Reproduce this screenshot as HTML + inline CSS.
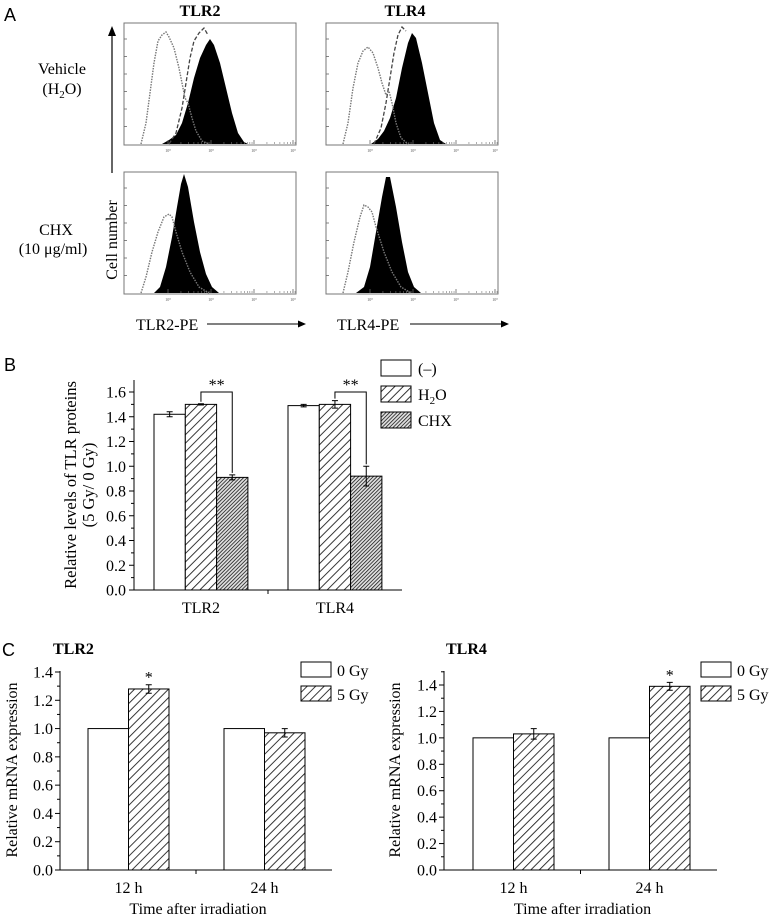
<!DOCTYPE html>
<html><head><meta charset="utf-8"><style>
html,body{margin:0;padding:0;background:#fff;}
svg{display:block;font-family:"Liberation Serif",serif;}
.sans{font-family:"Liberation Sans",sans-serif;}
</style></head><body>
<svg id="fig" width="773" height="919" viewBox="0 0 773 919" xmlns="http://www.w3.org/2000/svg">
<defs>
<pattern id="hatch" patternUnits="userSpaceOnUse" width="6" height="6" patternTransform="rotate(45)"><rect width="6" height="6" fill="#fff"/><line x1="0" y1="0" x2="0" y2="6" stroke="#222" stroke-width="1.8"/></pattern>
<pattern id="hatchDense" patternUnits="userSpaceOnUse" width="2.6" height="2.6" patternTransform="rotate(45)"><rect width="2.6" height="2.6" fill="#ddd"/><line x1="0" y1="0" x2="0" y2="2.6" stroke="#222" stroke-width="1.6"/></pattern>
</defs>
<g id="panelA"></g>
<g id="panelB"></g>
<g id="panelC1"></g>
<g id="panelC2"></g>
</svg>
<script>
// ---- Panel B data ----
const bCategories = ["TLR2", "TLR4"];
const bSeriesNames = ["(–)", "H2O", "CHX"];
const bNone = [1.42, 1.49];
const bH2O = [1.50, 1.50];
const bCHX = [0.91, 0.92];
const bNoneErr = [0.02, 0.01];
const bH2OErr = [0.005, 0.03];
const bCHXErr = [0.02, 0.08];
const bTicks = ["0.0","0.2","0.4","0.6","0.8","1.0","1.2","1.4","1.6"];
// ---- Panel C data ----
const cCategories = ["12 h", "24 h"];
const cTicks = ["0.0","0.2","0.4","0.6","0.8","1.0","1.2","1.4"];
const c2Gy0 = [1.0, 1.0];
const c2Gy5 = [1.28, 0.97];
const c2Gy5Err = [0.03, 0.03];
const c4Gy0 = [1.0, 1.0];
const c4Gy5 = [1.03, 1.39];
const c4Gy5Err = [0.04, 0.03];
const c2Sig = ["*", ""];
const c4Sig = ["", "*"];

const NS = "http://www.w3.org/2000/svg";
function mk(parent, tag, attrs, text){
  const e = document.createElementNS(NS, tag);
  for (const k in attrs) e.setAttribute(k, attrs[k]);
  if (text !== undefined) e.textContent = text;
  parent.appendChild(e);
  return e;
}

// ================= Panel A =================
const A = document.getElementById('panelA');
let t;
t = mk(A,'text',{x:4,y:21,'font-size':18,class:'sans'},'A');
 
t = mk(A,'text',{x:200,y:16,'font-size':16,'font-weight':'bold','text-anchor':'middle'},'TLR2');
 
t = mk(A,'text',{x:405,y:16,'font-size':16,'font-weight':'bold','text-anchor':'middle'},'TLR4');
 
t = mk(A,'text',{x:62,y:74,'font-size':16,'text-anchor':'middle'},'Vehicle');
 
t = mk(A,'text',{x:62,y:94,'font-size':16,'text-anchor':'middle'});
t.innerHTML='(H<tspan font-size="11" dy="4">2</tspan><tspan dy="-4">O)</tspan>';
 
t = mk(A,'text',{x:56,y:235,'font-size':16,'text-anchor':'middle'},'CHX');
 
t = mk(A,'text',{x:53,y:254,'font-size':16,'text-anchor':'middle'},'(10 μg/ml)');
 
t = mk(A,'line',{x1:112,y1:173,x2:112,y2:34,stroke:'#000','stroke-width':1.2});
 
mk(A,'path',{d:'M108,36 L112,26 L116,36 Z',fill:'#000'});
t = mk(A,'text',{x:0,y:0,'font-size':16,'text-anchor':'middle',transform:'translate(117,240) rotate(-90)'},'Cell number');
 
t = mk(A,'text',{x:136,y:330,'font-size':16},'TLR2-PE');
 
mk(A,'line',{x1:207,y1:324,x2:300,y2:324,stroke:'#000','stroke-width':1});
mk(A,'path',{d:'M298,320.5 L306,324 L298,327.5 Z',fill:'#000'});
t = mk(A,'text',{x:337,y:330,'font-size':16},'TLR4-PE');
 
mk(A,'line',{x1:410,y1:324,x2:503,y2:324,stroke:'#000','stroke-width':1});
mk(A,'path',{d:'M501,320.5 L509,324 L501,327.5 Z',fill:'#000'});

const histTLR2top = {
 dotted:[[17,121],[22,100],[26,70],[30,40],[34,18],[38,12],[42,9],[45,14],[50,25],[55,45],[58,60],[61,75],[64,80],[68,95],[72,108],[78,118],[85,121]],
 dashed:[[45,121],[52,110],[58,85],[62,60],[66,35],[70,18],[75,10],[80,5],[84,12]],
 filled:[[38,121],[45,117],[52,112],[58,100],[64,80],[70,55],[76,35],[82,22],[86,16],[90,22],[96,40],[102,65],[108,90],[114,110],[120,119],[124,121]]};
const histTLR4top = {
 dotted:[[17,121],[22,100],[27,65],[32,40],[37,28],[42,24],[47,30],[52,45],[56,60],[60,72],[63,68],[66,80],[70,100],[75,115],[82,121]],
 dashed:[[48,121],[55,105],[60,80],[64,55],[68,30],[72,12],[76,4],[80,8]],
 filled:[[45,121],[52,116],[58,108],[64,95],[70,75],[76,45],[82,20],[86,10],[90,15],[96,40],[102,70],[108,100],[114,117],[120,121]]};
const histTLR2bot = {
 dotted:[[17,121],[22,105],[28,80],[34,60],[40,45],[45,42],[48,45],[52,60],[58,80],[66,100],[75,115],[85,121]],
 dashed:[],
 filled:[[30,121],[36,115],[42,95],[48,65],[53,35],[57,12],[60,2],[64,15],[70,50],[76,80],[82,102],[88,115],[95,121]]};
const histTLR4bot = {
 dotted:[[17,121],[22,100],[28,70],[34,45],[38,33],[42,35],[46,40],[50,55],[58,80],[66,100],[75,115],[85,121]],
 dashed:[],
 filled:[[30,121],[38,115],[44,95],[50,60],[56,25],[60,5],[64,5],[70,35],[76,70],[82,100],[88,115],[95,121]]};

function histBox(x,y,h,name){
  const g = mk(A,'g',{transform:`translate(${x},${y})`});
   
  mk(g,'rect',{x:0,y:0,width:172,height:122,fill:'#fff',stroke:'#777','stroke-width':1});
  const pts = a => a.map(p=>p.join(',')).join(' ');
  const f = mk(g,'polygon',{points:pts(h.filled),fill:'#000'});
   
  if (h.dashed.length){ const d=mk(g,'polyline',{points:pts(h.dashed),fill:'none',stroke:'#444','stroke-width':1.3,'stroke-dasharray':'4,2'});
      }
  const o = mk(g,'polyline',{points:pts(h.dotted),fill:'none',stroke:'#777','stroke-width':1.4,'stroke-dasharray':'1.5,1.2'});
   
  for(let i=1;i<7;i++) mk(g,'line',{x1:0,x2:3,y1:121-i*17.5,y2:121-i*17.5,stroke:'#666','stroke-width':0.8});
  const dec=[44,87,130,169];
  dec.forEach(d=>{ mk(g,'line',{x1:d,x2:d,y1:121,y2:117,stroke:'#666','stroke-width':0.8});
    mk(g,'text',{x:d,y:129,'font-size':4,'text-anchor':'middle',fill:'#555'},'10⁰'); });
  for(let k=1;k<4;k++) for(let m=2;m<10;m++){ const xx=dec[k-1]+Math.log10(m)*43;
    mk(g,'line',{x1:xx,x2:xx,y1:121,y2:119,stroke:'#777','stroke-width':0.6}); }
}
histBox(124,23,histTLR2top,'tlr2-vehicle-histogram');
histBox(326,23,histTLR4top,'tlr4-vehicle-histogram');
histBox(124,172,histTLR2bot,'tlr2-chx-histogram');
histBox(326,172,histTLR4bot,'tlr4-chx-histogram');

// ================= Panel B =================
const B = document.getElementById('panelB');
t = mk(B,'text',{x:4,y:371,'font-size':18,class:'sans'},'B');
 
const bX0=134, bX1=402, bY0=590, bPx=(590-392)/1.6;
const bY = v => bY0 - v*bPx;
const bAxis = mk(B,'g',{});  
mk(bAxis,'line',{x1:bX0,y1:380,x2:bX0,y2:bY0,stroke:'#000','stroke-width':1});
bTicks.forEach((lab,i)=>{
  const v=parseFloat(lab), y=bY(v);
  mk(bAxis,'line',{x1:bX0-5,x2:bX0,y1:y,y2:y,stroke:'#000'});
  if(i<bTicks.length-1) mk(bAxis,'line',{x1:bX0-3,x2:bX0,y1:bY(v+0.1),y2:bY(v+0.1),stroke:'#000'});
  const tl=mk(bAxis,'text',{x:bX0-8,y:y+5.5,'font-size':16,'text-anchor':'end'},lab);
   
});
const bXa = mk(B,'line',{x1:bX0,y1:bY0,x2:bX1,y2:bY0,stroke:'#000'});
 
mk(B,'line',{x1:268,x2:268,y1:bY0,y2:bY0+4,stroke:'#000'});
t = mk(B,'text',{x:0,y:0,'font-size':16.5,'text-anchor':'middle',transform:'translate(76,485) rotate(-90)'},'Relative levels of TLR proteins');
 
t = mk(B,'text',{x:0,y:0,'font-size':16.5,'text-anchor':'middle',transform:'translate(94,485) rotate(-90)'},'(5 Gy/ 0 Gy)');
 
const bGroupStart=[154,288], bBarW=31.3;
const bFills=['#fff','url(#hatch)','url(#hatchDense)'];
const bVals=[bNone,bH2O,bCHX], bErrs=[bNoneErr,bH2OErr,bCHXErr];
const bSeriesSlug=['none','h2o','chx'];
bCategories.forEach((cat,ci)=>{
  const tl = mk(B,'text',{x:bGroupStart[ci]+bBarW*1.5,y:613,'font-size':16,'text-anchor':'middle'},cat);
   
  bVals.forEach((ser,si)=>{
    const x=bGroupStart[ci]+si*bBarW, v=ser[ci], y=bY(v);
    const r=mk(B,'rect',{x:x,y:y,width:bBarW,height:bY0-y,fill:bFills[si],stroke:'#000','stroke-width':1});
    
    
    const e=bErrs[si][ci], cx=x+bBarW/2;
    const eg=mk(B,'path',{d:`M${cx-3},${bY(v+e)} H${cx+3} M${cx},${bY(v+e)} V${bY(v-e)} M${cx-3},${bY(v-e)} H${cx+3}`,stroke:'#000','stroke-width':1,fill:'none'});
     
  });
  const lx=bGroupStart[ci]+bBarW*1.5, rx=bGroupStart[ci]+bBarW*2.5;
  const topY=bY(Math.max(bH2O[ci],bCHX[ci])+0.1);
  const br=mk(B,'path',{d:`M${lx},${bY(bH2O[ci]+bH2OErr[ci])-2} V${topY} H${rx} V${bY(bCHX[ci]+bCHXErr[ci])-2}`,stroke:'#000',fill:'none','stroke-width':1});
   
  const st=mk(B,'text',{x:(lx+rx)/2,y:topY-2,'font-size':16,'text-anchor':'middle'},'**');
   
});
const bLegY=[360,386,412];
bSeriesNames.forEach((n,i)=>{
  const g=mk(B,'g',{});  
  mk(g,'rect',{x:381,y:bLegY[i],width:30,height:16,fill:bFills[i],stroke:'#000'});
  const tx=mk(g,'text',{x:418,y:bLegY[i]+14,'font-size':16});
  if(n==='H2O') tx.innerHTML='H<tspan font-size="11" dy="4">2</tspan><tspan dy="-4">O</tspan>'; else tx.textContent=n;
});

// ================= Panel C =================
function panelC(id, prefix, title, axX, axRight, yTopPix, g0, g5, g5e, sig, groupStarts, legX, titleX, ylabX){
  const P=document.getElementById(id);
  const yB=870, px=(870-yTopPix)/1.4, Y=v=>yB-v*px, bw=40.5;
  let tt=mk(P,'text',{x:titleX,y:654,'font-size':16,'font-weight':'bold'},title);
   
  const ax=mk(P,'g',{});  
  mk(ax,'line',{x1:axX,y1:671,x2:axX,y2:yB,stroke:'#000'});
  cTicks.forEach((lab,i)=>{
    const v=parseFloat(lab), y=Y(v);
    mk(ax,'line',{x1:axX-5,x2:axX,y1:y,y2:y,stroke:'#000'});
    if(Y(v+0.1)>671) mk(ax,'line',{x1:axX-3,x2:axX,y1:Y(v+0.1),y2:Y(v+0.1),stroke:'#000'});
    const tl=mk(ax,'text',{x:axX-7,y:y+5.5,'font-size':16,'text-anchor':'end'},lab);
     
  });
  const xa=mk(P,'line',{x1:axX,y1:yB,x2:axRight,y2:yB,stroke:'#000'});
   
  mk(P,'line',{x1:(axX+axRight)/2,x2:(axX+axRight)/2,y1:yB,y2:yB+4,stroke:'#000'});
  tt=mk(P,'text',{x:0,y:0,'font-size':16,'text-anchor':'middle',transform:`translate(${ylabX},770) rotate(-90)`},'Relative mRNA expression');
   
  tt=mk(P,'text',{x:(axX+axRight)/2+2,y:914,'font-size':16,'text-anchor':'middle'},'Time after irradiation');
   
  cCategories.forEach((cat,ci)=>{
    const x0=groupStarts[ci];
    const tl=mk(P,'text',{x:x0+bw,y:893,'font-size':16,'text-anchor':'middle'},cat);
     
    let r=mk(P,'rect',{x:x0,y:Y(g0[ci]),width:bw,height:yB-Y(g0[ci]),fill:'#fff',stroke:'#000'});
     
    r=mk(P,'rect',{x:x0+bw,y:Y(g5[ci]),width:bw,height:yB-Y(g5[ci]),fill:'url(#hatch)',stroke:'#000'});
     
    const cx=x0+bw*1.5, v=g5[ci], e=g5e[ci];
    const eb=mk(P,'path',{d:`M${cx-3},${Y(v+e)} H${cx+3} M${cx},${Y(v+e)} V${Y(v-e)} M${cx-3},${Y(v-e)} H${cx+3}`,stroke:'#000',fill:'none'});
     
    if(sig[ci]){ const s=mk(P,'text',{x:cx,y:Y(v+e)-2,'font-size':16,'text-anchor':'middle'},sig[ci]);
        }
  });
  [['0 Gy','#fff',662],['5 Gy','url(#hatch)',686]].forEach(([n,f,y],i)=>{
    const g=mk(P,'g',{});  
    mk(g,'rect',{x:legX,y:y,width:30,height:15,fill:f,stroke:'#000'});
    mk(g,'text',{x:legX+36,y:y+14,'font-size':16},n);
  });
}
t = mk(document.getElementById('panelC1'),'text',{x:2,y:656,'font-size':18,class:'sans'},'C');
 
panelC('panelC1','c-tlr2','TLR2',60,332,672,c2Gy0,c2Gy5,c2Gy5Err,c2Sig,[88,224],301,53,17);
panelC('panelC2','c-tlr4','TLR4',444,717,685,c4Gy0,c4Gy5,c4Gy5Err,c4Sig,[473,609],701,446,400);
</script>
</body></html>
